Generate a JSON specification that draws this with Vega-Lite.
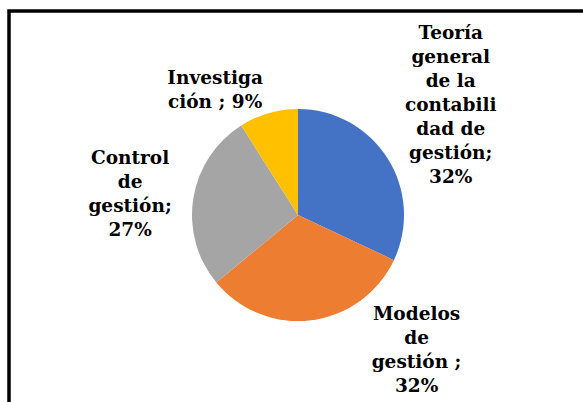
{
  "$schema": "https://vega.github.io/schema/vega-lite/v6.json",
  "width": 574,
  "height": 391,
  "autosize": {"type": "none"},
  "padding": {"left": 9, "top": 11, "right": 0, "bottom": 0},
  "background": "white",
  "view": {"stroke": "#000000", "strokeWidth": 3.5, "strokeDash": [574, 965, 391]},
  "config": {
    "view": {"stroke": "#000000", "strokeWidth": 3.5, "strokeDash": [574, 965, 391]},
    "text": {"font": "DejaVu Serif", "fontWeight": "bold", "fontSize": 18.5, "lineHeight": 24, "lineBreak": "\n", "color": "#000000", "align": "center", "baseline": "middle"}
  },
  "data": {
    "values": [
      {"cat": "Teoría general de la contabilidad de gestión", "value": 32, "label": "Teoría\ngeneral\nde la\ncontabili\ndad de\ngestión;\n32%"},
      {"cat": "Modelos de gestión", "value": 32, "label": "Modelos\nde\ngestión ;\n32%"},
      {"cat": "Control de gestión", "value": 27, "label": "Control\nde\ngestión;\n27%"},
      {"cat": "Investigación", "value": 9, "label": "Investiga\nción ; 9%"}
    ]
  },
  "transform": [{"window": [{"op": "row_number", "as": "idx"}]}],
  "encoding": {
    "theta": {"field": "value", "type": "quantitative", "stack": true},
    "order": {"field": "idx", "type": "quantitative"}
  },
  "layer": [
    {
      "mark": {"type": "arc", "outerRadius": 106, "xOffset": 2, "yOffset": 8.5},
      "encoding": {
        "color": {
          "field": "cat", "type": "nominal", "legend": null,
          "scale": {"domain": ["Teoría general de la contabilidad de gestión", "Modelos de gestión", "Control de gestión", "Investigación"], "range": ["#4472C4", "#ED7D31", "#A5A5A5", "#FFC000"]}
        }
      }
    },
    {
      "mark": {"type": "text", "radius": 188, "dx": -6, "dy": -81, "xOffset": 2, "yOffset": 8.5},
      "encoding": {"text": {"condition": {"test": "datum.idx == 1", "field": "label"}, "value": ""}}
    },
    {
      "mark": {"type": "text", "radius": 148, "dx": 100, "dy": -48, "xOffset": 2, "yOffset": 8.5},
      "encoding": {"text": {"condition": {"test": "datum.idx == 2", "field": "label"}, "value": ""}}
    },
    {
      "mark": {"type": "text", "radius": 169, "dx": -1, "dy": -31, "xOffset": 2, "yOffset": 8.5},
      "encoding": {"text": {"condition": {"test": "datum.idx == 3", "field": "label"}, "value": ""}}
    },
    {
      "mark": {"type": "text", "radius": 143, "dx": -43, "dy": 0, "xOffset": 2, "yOffset": 8.5},
      "encoding": {"text": {"condition": {"test": "datum.idx == 4", "field": "label"}, "value": ""}}
    }
  ]
}
